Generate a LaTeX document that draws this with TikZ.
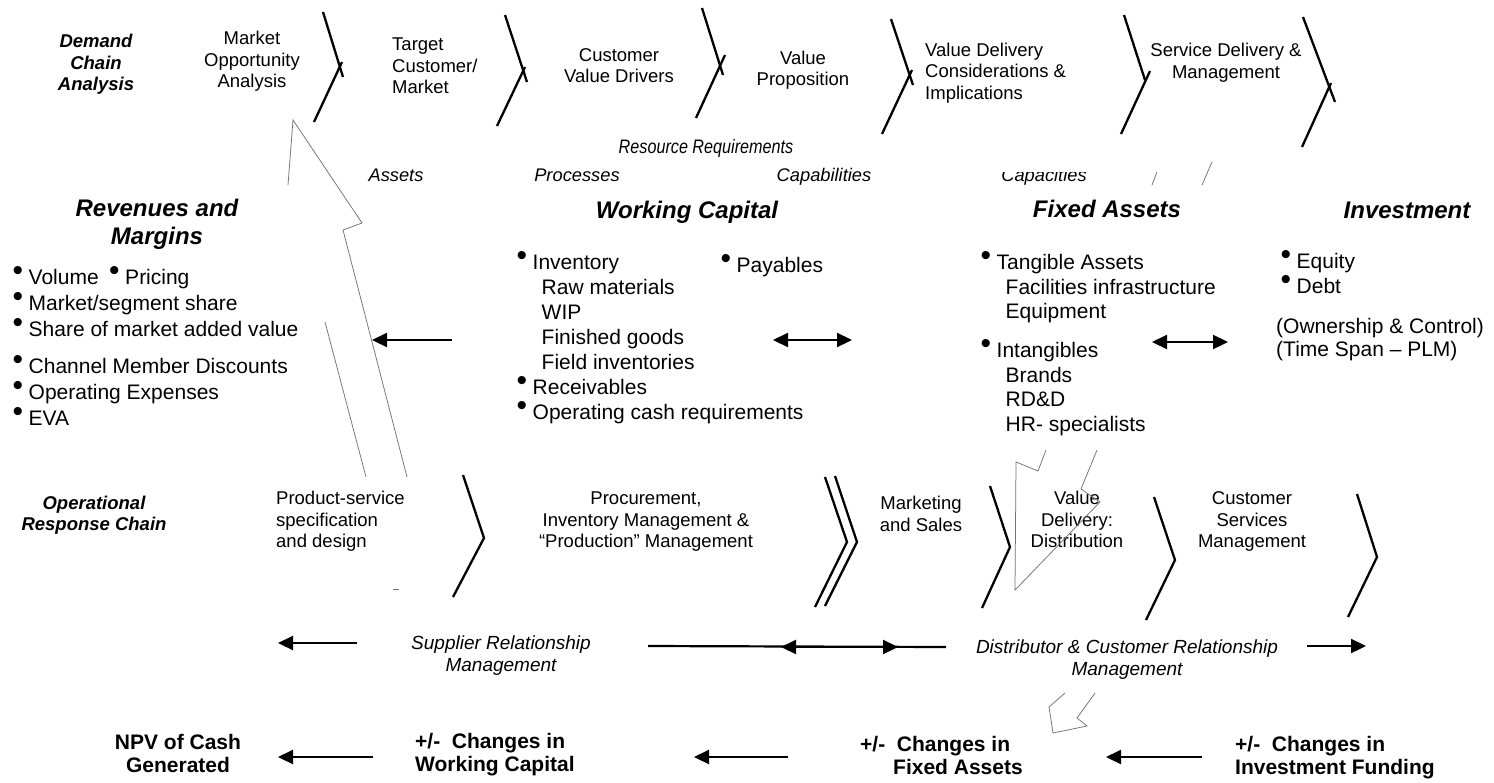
\documentclass[tikz,border=0pt]{standalone}
\usepackage{fontspec}
\setmainfont{Liberation Sans}
\newfontfamily\narrowfont[FakeStretch=0.83]{Liberation Sans}
\usetikzlibrary{arrows.meta}

% raised list bullet
\newcommand\blt{\makebox[14.5pt][l]{\hspace*{-1.5pt}\smash{\raisebox{4pt}{\fontsize{30}{30}\selectfont\char"2022}}}}
\newcommand\subind{\hspace*{23.5pt}}

\tikzset{
  chev/.style={line width=2.3pt},
  ghost/.style={draw=black!55, line width=0.75pt},
  flow/.style={line width=2.2pt, -{Triangle[length=15pt,width=14pt]}},
  flowboth/.style={line width=2.2pt, {Triangle[length=15pt,width=14pt]}-{Triangle[length=15pt,width=14pt]}},
  txt/.style={inner sep=0pt, execute at begin node=\strut, execute at end node=\strut},
  toplbl/.style={txt, align=center, font=\fontsize{18.5}{21.5}\selectfont},
  chainhead/.style={txt, align=center, font=\fontsize{18.5}{21.5}\selectfont\bfseries\itshape},
  head/.style={txt, align=center, font=\fontsize{24}{28}\selectfont\bfseries\itshape},
  res/.style={inner sep=0pt, font=\fontsize{18.3}{21}\selectfont\itshape},
  resnarrow/.style={inner sep=0pt, font=\fontsize{19.5}{22}\selectfont\narrowfont\itshape},
  lst/.style={txt, align=left, anchor=north west},
  rel/.style={txt, align=center, font=\fontsize{19}{22}\selectfont\itshape},
  bot/.style={txt, align=left, font=\fontsize{21}{23}\selectfont\bfseries},
}

\begin{document}
\begin{tikzpicture}[x=1pt, y=-1pt]
\fill[white] (0,0) rectangle (1494,782);
\useasboundingbox (0,0) rectangle (1494,782);

% ---------------- demand chain ----------------
\node[chainhead] (dca) at (96,66) {Demand\\Chain\\Analysis};
\node[toplbl] (moa) at (252,63) {Market\\Opportunity\\Analysis};
\node[toplbl, align=left, anchor=west] (tcm) at (392,69) {Target\\Customer/\\Market};
\node[toplbl] (cvd) at (619,69) {Customer\\Value Drivers};
\node[toplbl] (vp) at (803,71.5) {Value\\Proposition};
\node[toplbl, align=left, anchor=west] (vdc) at (925,74.5) {Value Delivery\\Considerations \&\\Implications};
\node[toplbl] (sdm) at (1226,64) {Service Delivery \&\\Management};

% chevrons with crossed strokes
\draw[chev] (323,12) -- (343,77);   \draw[chev] (342,62) -- (314,122);
\draw[chev] (505,15) -- (527,82);   \draw[chev] (525,67) -- (497,126);
\draw[chev] (702,8) -- (723,75);    \draw[chev] (725,55) -- (696,118);
\draw[chev] (891,19) -- (913,85);   \draw[chev] (912,70) -- (882,134);
\draw[chev] (1124,15) -- (1145,80); \draw[chev] (1150,71) -- (1121,134);
\draw[chev] (1303,17) -- (1335,102);\draw[chev] (1331,83) -- (1302,147);

% ---------------- resource requirements ----------------
\node[resnarrow, anchor=base] (rr) at (706,153) {Resource Requirements};
\node[res, anchor=base] (ast) at (396,181.5) {Assets};
\node[res, anchor=base] (prc) at (577,181.5) {Processes};
\node[res, anchor=base] (cpb) at (824,181.5) {Capabilities};
\begin{scope}
  \clip (990,172) rectangle (1100,192);
  \node[res, anchor=base] (cpc) at (1044,181.5) {Capacities};
\end{scope}

% ---------------- financial blocks ----------------
\node[head] (rm) at (157,225.6) {Revenues and\\Margins};
\node[head, anchor=base] (wch) at (687,218.5) {Working Capital};
\node[head, anchor=base] (fah) at (1107,217.5) {Fixed Assets};
\node[head, anchor=base] (invh) at (1407,218) {Investment};

\node[lst, font=\fontsize{21}{26}\selectfont] (revl) at (14,269.1)
  {\blt Volume\hspace{12pt}\blt Pricing\\
   \blt Market/segment share\\
   \blt Share of market added value\\[11pt]
   \blt Channel Member Discounts\\
   \blt Operating Expenses\\
   \blt EVA};

\node[lst, font=\fontsize{21}{25}\selectfont] (wcl) at (518,255.2)
  {\blt Inventory\\
   \subind Raw materials\\
   \subind WIP\\
   \subind Finished goods\\
   \subind Field inventories\\
   \blt Receivables\\
   \blt Operating cash requirements};
\node[inner sep=0pt, anchor=base west, font=\fontsize{21}{25}\selectfont] (pay) at (722,272.7) {\blt Payables};

\node[lst, font=\fontsize{21}{24.5}\selectfont] (fal) at (982,254.5)
  {\blt Tangible Assets\\
   \subind Facilities infrastructure\\
   \subind Equipment\\[14.5pt]
   \blt Intangibles\\
   \subind Brands\\
   \subind RD\&D\\
   \subind HR- specialists};

\node[lst, font=\fontsize{21}{25}\selectfont] (invl) at (1282,253.2)
  {\blt Equity\\ \blt Debt};
\node[lst, font=\fontsize{21}{23}\selectfont] (own) at (1276,317.9)
  {(Ownership \& Control)\\(Time Span -- PLM)};

\coordinate (revIn) at (372,340);  \coordinate (wcOut) at (452,340);
\coordinate (wcR) at (773,340);    \coordinate (faL) at (852,340);
\coordinate (faR) at (1152,342);   \coordinate (invL) at (1228,342);
\draw[flow] (wcOut) -- (revIn);
\draw[flowboth] (wcR) -- (faL);
\draw[flowboth] (faR) -- (invL);

% ---------------- operational response chain ----------------
\node[chainhead] (orc) at (94,516.4) {Operational\\Response Chain};
\node[toplbl, align=left, anchor=west] (psd) at (276,523) {Product-service\\specification\\and design};
\node[toplbl] (pim) at (646,523) {Procurement,\\Inventory Management \&\\``Production'' Management};
\node[toplbl] (ms) at (921,517) {Marketing\\and Sales};
\node[toplbl] (vdd) at (1077,523) {Value\\Delivery:\\Distribution};
\node[toplbl] (csm) at (1252,523) {Customer\\Services\\Management};

\draw[chev] (463,475) -- (484,538) -- (453,597);
\draw[chev] (825,477) -- (847,542) -- (815,607);
\draw[chev] (835,476) -- (857,542) -- (825,606);
\draw[chev] (990,486) -- (1010,547) -- (982,608);
\draw[chev] (1154,497) -- (1175,560) -- (1146,620);
\draw[chev] (1357,494) -- (1377,557) -- (1348,617);

% ---------------- relationship management ----------------
\node[rel] (srm) at (501,656.5) {Supplier Relationship\\Management};
\node[rel] (dcrm) at (1127,660.5) {Distributor \& Customer Relationship\\Management};

\coordinate (sL) at (278,643);  \coordinate (sR) at (357,643);
\coordinate (mL) at (648,646);  \coordinate (mR) at (946,647);
\coordinate (mhL) at (781,647); \coordinate (mhR) at (898,647);
\coordinate (dL) at (1307,646); \coordinate (dR) at (1366,646);
\draw[flow] (sR) -- (sL);
\draw[line width=2.2pt] (mL) -- (mR);
\draw[flowboth] (mhL) -- (mhR);
\draw[flow] (dL) -- (dR);

% ---------------- cash flow line ----------------
\node[bot, align=center] (npv) at (178,757) {NPV of Cash\\Generated};
\node[bot, anchor=west] (cwc) at (415,756.3) {+/-\ \ Changes in\\Working Capital};
\node[bot, anchor=west] (cfa) at (860,758.7) {+/-\ \ Changes in\\\hspace*{33pt}Fixed Assets};
\node[bot, anchor=west] (cif) at (1235,758.7) {+/-\ \ Changes in\\Investment Funding};

\coordinate (npvIn) at (278,757);  \coordinate (cwcOut) at (373,757);
\coordinate (cwcIn) at (694,757);  \coordinate (cfaOut) at (788,757);
\coordinate (cfaIn) at (1106,757); \coordinate (cifOut) at (1202,757);
\draw[flow] (cwcOut) -- (npvIn);
\draw[flow] (cfaOut) -- (cwcIn);
\draw[flow] (cifOut) -- (cfaIn);

% ---------------- hollow block arrows (partly hidden outlines) ----------------
\draw[ghost] (288,185) -- (293,120) -- (362,223) -- (343,230) -- (407,477);
\draw[ghost] (325,322) -- (366,477);
\draw[ghost] (393,589) -- (399,589);

\draw[ghost] (1157,172) -- (1152,185);
\draw[ghost] (1212,162) -- (1202,185);
\draw[ghost] (1046,450) -- (1038,471) -- (1016,462) -- (1015,590) -- (1100,502) -- (1081,489) -- (1097,450);

\draw[ghost] (1065,693) -- (1049,707) -- (1053,733) -- (1087,726) -- (1077,718) -- (1095,693);
\end{tikzpicture}
\end{document}
